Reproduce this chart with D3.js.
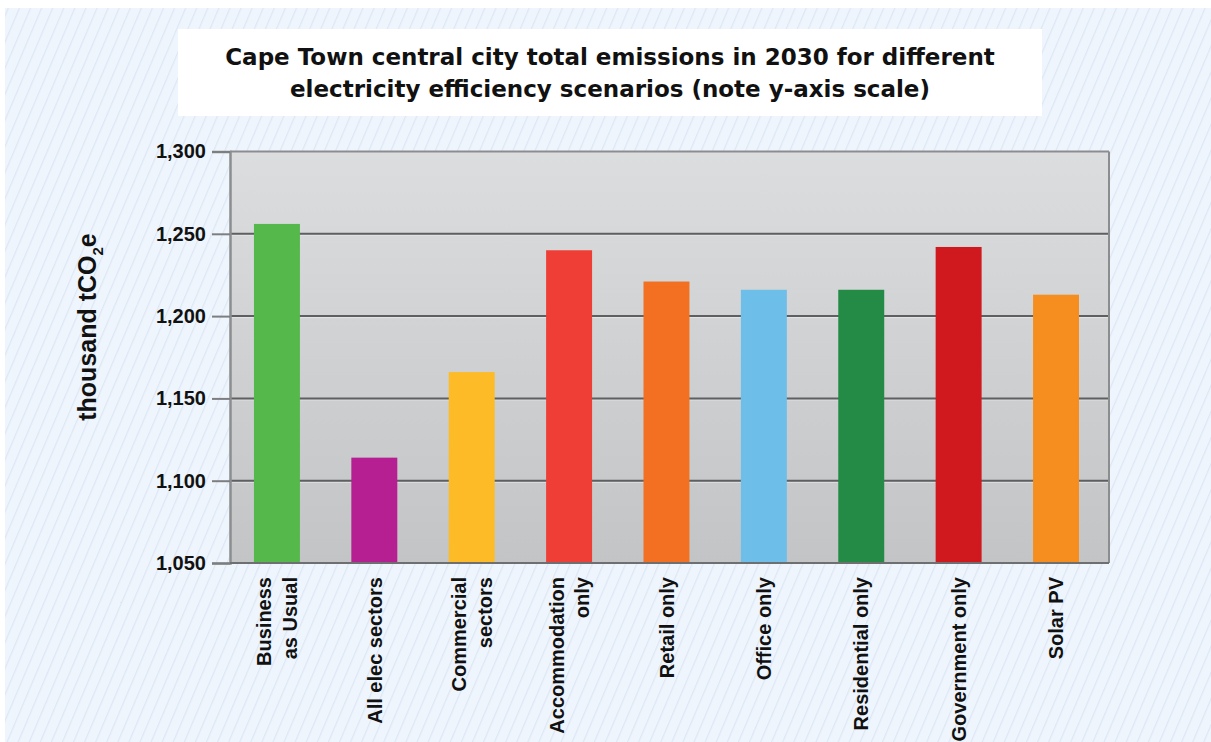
<!DOCTYPE html>
<html>
<head>
<meta charset="utf-8">
<script src="https://cdn.jsdelivr.net/npm/d3@7/dist/d3.min.js"></script>
<style>
  html, body { margin: 0; padding: 0; background: #ffffff; }
  svg { display: block; }
  text { font-family: "Liberation Sans", Arial, sans-serif; font-weight: bold; fill: #111; }
  .title { font-family: "DejaVu Sans", "Liberation Sans", sans-serif; }
</style>
</head>
<body>
<svg id="chart" width="1211" height="742"></svg>
<script>
// Scenario names (line breaks split the rotated axis labels)
const categories = [
  "Business\nas Usual",
  "All elec sectors",
  "Commercial\nsectors",
  "Accommodation\nonly",
  "Retail only",
  "Office only",
  "Residential only",
  "Government only",
  "Solar PV"
];

// Total emissions in 2030, thousand tCO2e
const emissions = [1256, 1114, 1166, 1240, 1221, 1216, 1216, 1242, 1213];

const barColors = [
  "#55b84a", "#b51f91", "#fdbb27", "#ef3e35", "#f37022",
  "#6dbee9", "#238b45", "#d0191f", "#f68e1f"
];

const yTicks = [1050, 1100, 1150, 1200, 1250, 1300];
const yDomain = [1050, 1300];

const titleLines = [
  "Cape Town central city total emissions in 2030 for different",
  "electricity efficiency scenarios (note y-axis scale)"
];

const W = 1211, H = 742;
const plot = { left: 230, right: 1109, top: 151.5, bottom: 563 };

const svg = d3.select("#chart");
const defs = svg.append("defs");

// Hatched page background
const hatch = defs.append("pattern")
  .attr("id", "hatch")
  .attr("patternUnits", "userSpaceOnUse")
  .attr("width", 10.2).attr("height", 10.2)
  .attr("patternTransform", "rotate(23)");
hatch.append("rect").attr("width", 10.2).attr("height", 10.2).attr("fill", "#eef5fd");
hatch.append("line")
  .attr("x1", 0.6).attr("y1", 0).attr("x2", 0.6).attr("y2", 10.2)
  .attr("stroke", "#dde7f3").attr("stroke-width", 1.2);

// Plot area shading
const grad = defs.append("linearGradient")
  .attr("id", "plotBg").attr("x1", 0).attr("y1", 0).attr("x2", 0).attr("y2", 1);
grad.append("stop").attr("offset", "0%").attr("stop-color", "#dcdddf");
grad.append("stop").attr("offset", "100%").attr("stop-color", "#c3c4c6");

svg.append("rect").attr("x", 5).attr("y", 8).attr("width", W - 5).attr("height", H - 8)
  .attr("fill", "url(#hatch)");

// Title panel
svg.append("rect").attr("x", 178).attr("y", 29).attr("width", 864).attr("height", 87)
  .attr("fill", "#ffffff");
svg.append("g").selectAll("text").data(titleLines).join("text")
  .attr("class", "title")
  .attr("x", 610).attr("y", (d, i) => 65 + i * 32)
  .attr("text-anchor", "middle")
  .style("font-size", "23px")
  .text(d => d);

// Scales
const x = d3.scaleBand().domain(categories).range([plot.left, plot.right])
  .paddingInner(0.528).paddingOuter(0.277).align(0.444);
const y = d3.scaleLinear().domain(yDomain).range([plot.bottom, plot.top]);

// Plot background
svg.append("rect")
  .attr("x", plot.left).attr("y", plot.top)
  .attr("width", plot.right - plot.left).attr("height", plot.bottom - plot.top)
  .attr("fill", "url(#plotBg)");

// Gridlines
const inner = yTicks.filter(t => t > yDomain[0] && t < yDomain[1]);
svg.append("g").selectAll("line.shadow").data(inner).join("line")
  .attr("x1", plot.left).attr("x2", plot.right)
  .attr("y1", d => y(d) + 1.5).attr("y2", d => y(d) + 1.5)
  .attr("stroke", "#e4e5e7").attr("stroke-width", 1);
svg.append("g").selectAll("line.grid").data(inner).join("line")
  .attr("x1", plot.left).attr("x2", plot.right)
  .attr("y1", d => y(d)).attr("y2", d => y(d))
  .attr("stroke", "#5e5f61").attr("stroke-width", 2);

// Bars
svg.append("g").selectAll("rect").data(emissions).join("rect")
  .attr("x", (d, i) => x(categories[i]))
  .attr("width", x.bandwidth())
  .attr("y", d => y(d))
  .attr("height", d => y(yDomain[0]) - y(d))
  .attr("fill", (d, i) => barColors[i]);

// Plot frame
svg.append("line").attr("x1", plot.left).attr("x2", plot.right)
  .attr("y1", plot.top).attr("y2", plot.top)
  .attr("stroke", "#8c8d8f").attr("stroke-width", 2);
svg.append("line").attr("x1", plot.right).attr("x2", plot.right)
  .attr("y1", plot.top).attr("y2", plot.bottom)
  .attr("stroke", "#8c8d8f").attr("stroke-width", 2);

// Y axis
const yAxis = d3.axisLeft(y).tickValues(yTicks).tickSize(18).tickPadding(6)
  .tickFormat(d3.format(","));
const yg = svg.append("g").attr("transform", `translate(${plot.left},0)`).call(yAxis);
yg.select(".domain").attr("stroke", "#8c8d8f").attr("stroke-width", 2.5);
yg.selectAll(".tick line").attr("stroke", "#7d7e80").attr("stroke-width", 2);
yg.selectAll(".tick text")
  .attr("fill", "#111")
  .style("font-family", '"Liberation Sans", Arial, sans-serif')
  .style("font-weight", "bold")
  .style("font-size", "20px");

// Baseline
svg.append("line").attr("x1", plot.left).attr("x2", plot.right)
  .attr("y1", plot.bottom).attr("y2", plot.bottom)
  .attr("stroke", "#6e6f71").attr("stroke-width", 2);

// Y axis title
const yTitle = svg.append("text")
  .attr("transform", "translate(96,327) rotate(-90)")
  .attr("text-anchor", "middle")
  .style("font-size", "25px");
yTitle.append("tspan").text("thousand tCO");
yTitle.append("tspan").attr("dy", 7).style("font-size", "15px").text("2");
yTitle.append("tspan").attr("dy", -7).text("e");

// Rotated category labels
const lineGap = 25.5;
const xl = svg.append("g").selectAll("text").data(categories).join("text")
  .attr("transform", d => `translate(${x(d) + x.bandwidth() / 2},577) rotate(-90)`)
  .attr("text-anchor", "end")
  .style("font-size", "20px");
xl.each(function(d) {
  const parts = d.split("\n");
  d3.select(this).selectAll("tspan").data(parts).join("tspan")
    .attr("x", 0)
    .attr("y", (p, i) => (i - (parts.length - 1) / 2) * lineGap)
    .attr("dy", "0.36em")
    .text(p => p);
});
</script>
</body>
</html>
